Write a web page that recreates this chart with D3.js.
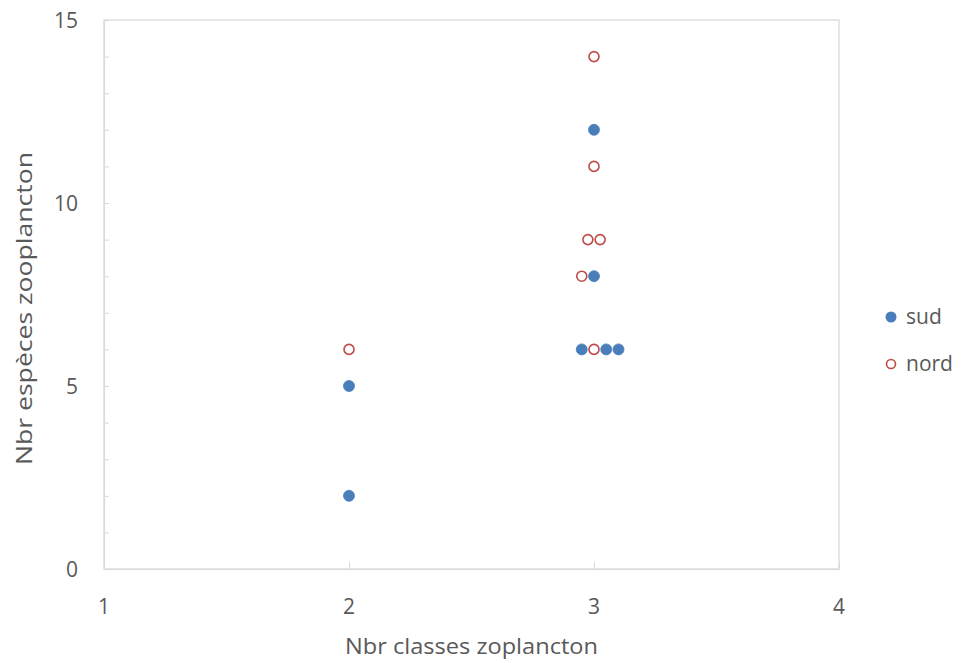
<!DOCTYPE html>
<html><head><meta charset="utf-8">
<script src="https://cdn.jsdelivr.net/npm/d3@7"></script>
<style>body{margin:0;background:#fff}svg{display:block}text{font-family:"Open Sans","Noto Sans",sans-serif;fill:#595959}</style>
</head><body><svg id="c" width="965" height="663"></svg>
<script>
const sudX = [2, 2, 3, 3, 2.95, 3.05, 3.1];
const sudY = [5, 2, 12, 8, 6, 6, 6];
const nordX = [2, 3, 3, 2.975, 3.025, 2.95, 3];
const nordY = [6, 14, 11, 9, 9, 8, 6];
const xTicks = [1, 2, 3, 4];
const yTicks = [0, 5, 10, 15];
const yMinor = d3.range(0, 16);
const seriesNames = ["sud", "nord"];

const svg = d3.select("#c");
const L = 104, R = 839, T = 20, B = 569;
const x = d3.scaleLinear().domain([1, 4]).range([L, R]);
const y = d3.scaleLinear().domain([0, 15]).range([B, T]);
const grey = "#d9d9d9";
const fs = 21;

// frame
svg.append("rect").attr("x", L).attr("y", T).attr("width", R - L).attr("height", B - T)
  .attr("fill", "none").attr("stroke", grey).attr("stroke-width", 1.3);

// y axis
const ya = svg.append("g").attr("transform", `translate(${L},0)`)
  .call(d3.axisRight(y).tickValues(yMinor).tickSize(5).tickFormat(""));
ya.select(".domain").attr("stroke", grey);
ya.selectAll("line").attr("stroke", grey);
svg.selectAll(".ylab").data(yTicks).enter().append("text")
  .attr("x", 78).attr("y", d => y(d) + 1).attr("dy", "0.35em").attr("text-anchor", "end")
  .attr("font-size", fs).text(d => d);

// x axis
const xa = svg.append("g").attr("transform", `translate(0,${B})`)
  .call(d3.axisTop(x).tickValues(xTicks).tickSize(7).tickFormat(""));
xa.select(".domain").attr("stroke", grey);
xa.selectAll("line").attr("stroke", grey);
svg.selectAll(".xlab").data(xTicks).enter().append("text")
  .attr("x", d => x(d)).attr("y", 614).attr("text-anchor", "middle")
  .attr("font-size", fs).text(d => d);

// titles
svg.append("text").attr("x", (345 + 598) / 2).attr("y", 654)
  .attr("text-anchor", "middle").attr("font-size", fs)
  .attr("textLength", 253).attr("lengthAdjust", "spacingAndGlyphs")
  .text("Nbr classes zoplancton");
svg.append("text").attr("transform", `translate(32,${(152 + 465) / 2}) rotate(-90)`)
  .attr("text-anchor", "middle").attr("font-size", fs)
  .attr("textLength", 313).attr("lengthAdjust", "spacingAndGlyphs")
  .text("Nbr espèces zooplancton");

// points
const blue = "#4a7ebb", red = "#be4b48";
svg.append("g").selectAll("circle").data(sudX.map((d, i) => [d, sudY[i]])).enter()
  .append("circle").attr("cx", d => x(d[0])).attr("cy", d => y(d[1])).attr("r", 5.5)
  .attr("fill", blue).attr("stroke", blue).attr("stroke-width", 0.8);
svg.append("g").selectAll("circle").data(nordX.map((d, i) => [d, nordY[i]])).enter()
  .append("circle").attr("cx", d => x(d[0])).attr("cy", d => y(d[1])).attr("r", 5)
  .attr("fill", "#fff").attr("stroke", red).attr("stroke-width", 1.6);

// legend
const lg = svg.append("g");
seriesNames.forEach((n, i) => {
  const cy = 317 + i * 47;
  if (i === 0) lg.append("circle").attr("cx", 891).attr("cy", cy).attr("r", 5.5).attr("fill", blue);
  else lg.append("circle").attr("cx", 891).attr("cy", cy).attr("r", 4.5).attr("fill", "#fff")
    .attr("stroke", red).attr("stroke-width", 1.6);
  lg.append("text").attr("x", 906).attr("y", cy).attr("dy", "0.35em").attr("font-size", fs).text(n);
});
</script></body></html>
